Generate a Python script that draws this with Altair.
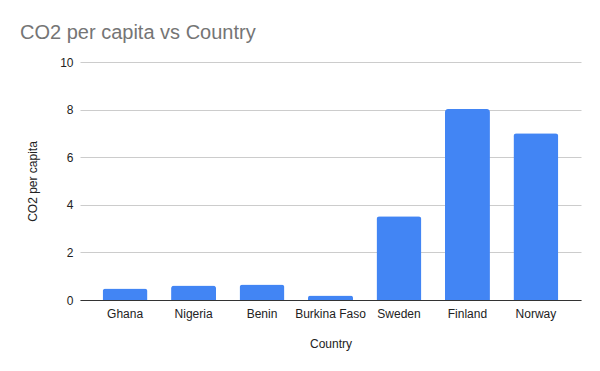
import altair as alt
import pandas as pd

countries = ["Ghana", "Nigeria", "Benin", "Burkina Faso", "Sweden", "Finland", "Norway"]
co2 = [0.48, 0.61, 0.65, 0.19, 3.52, 8.02, 7.01]
y_ticks = [0, 2, 4, 6, 8, 10]

df = pd.DataFrame({"Country": countries, "CO2 per capita": co2})

FONT = "Liberation Sans"

chart = alt.Chart(df).mark_bar(
    color="#4285F4",
    cornerRadiusTopLeft=3,
    cornerRadiusTopRight=3,
).encode(
    x=alt.X(
        "Country:N",
        sort=countries,
        scale=alt.Scale(paddingInner=0.343, paddingOuter=0.33),
        axis=alt.Axis(
            labelAngle=0,
            ticks=False,
            domainColor="#333333",
            labelPadding=8,
            labelFontSize=12,
            labelColor="#222222",
            titleFontSize=12,
            titleFontWeight="normal",
            titleColor="#222222",
            titlePadding=19,
            labelFont=FONT,
            titleFont=FONT,
        ),
    ),
    y=alt.Y(
        "CO2 per capita:Q",
        scale=alt.Scale(domain=[0, 10], nice=False),
        axis=alt.Axis(
            values=y_ticks,
            ticks=False,
            domain=False,
            gridColor="#cccccc",
            labelPadding=7,
            labelFontSize=12,
            labelColor="#222222",
            titleFontSize=12,
            titleFontWeight="normal",
            titleColor="#222222",
            titlePadding=20,
            labelFont=FONT,
            titleFont=FONT,
        ),
    ),
).properties(
    width=501,
    height=238,
    autosize=alt.AutoSizeParams(type="none"),
    padding={"left": 72, "top": 54, "right": 11, "bottom": 63},
    title=alt.TitleParams(
        "CO2 per capita vs Country",
        anchor="start",
        frame="group",
        dx=-60,
        offset=13,
        fontSize=20,
        fontWeight="normal",
        color="#757575",
        font=FONT,
    ),
).configure_view(stroke=None)

chart.save("out.html", embed_options={"renderer": "svg", "actions": False})
